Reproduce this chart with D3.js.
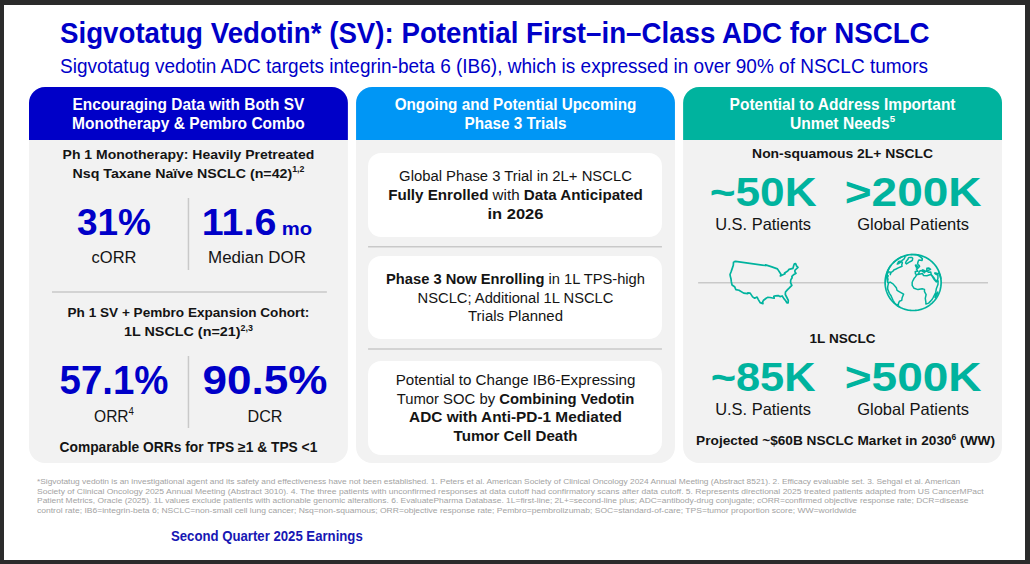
<!DOCTYPE html>
<html>
<head>
<meta charset="utf-8">
<script src="https://cdn.jsdelivr.net/npm/d3@7"></script>
<style>
  html, body { margin: 0; padding: 0; background: #2b2b2b; }
  svg { display: block; }
  text { white-space: pre; }
</style>
</head>
<body>
<script>
// ---- content ----
const titleText = "Sigvotatug Vedotin* (SV): Potential First\u2013in\u2013Class ADC for NSCLC";
const subtitleText = "Sigvotatug vedotin ADC targets integrin-beta 6 (IB6), which is expressed in over 90% of NSCLC tumors";

const panelHeaders = [
  ["Encouraging Data with Both SV", "Monotherapy & Pembro Combo"],
  ["Ongoing and Potential Upcoming", "Phase 3 Trials"],
  ["Potential to Address Important", "Unmet Needs^5^"]
];

const cohortTitles = [
  ["Ph 1 Monotherapy: Heavily Pretreated", "Nsq Taxane Na\u00efve NSCLC (n=42)^1,2^"],
  ["Ph 1 SV + Pembro Expansion Cohort:", "1L NSCLC (n=21)^2,3^"]
];
const cohortValues = [["31%", "11.6"], ["57.1%", "90.5%"]];
const cohortUnits = [["", "mo"], ["", ""]];
const cohortLabels = [["cORR", "Median DOR"], ["ORR^4^", "DCR"]];
const cohortNote = "Comparable ORRs for TPS \u22651 & TPS <1";

const trialCards = [
  ["Global Phase 3 Trial in 2L+ NSCLC", "**Fully Enrolled** with **Data Anticipated**", "**in 2026**"],
  ["**Phase 3 Now Enrolling** in 1L TPS-high", "NSCLC; Additional 1L NSCLC", "Trials Planned"],
  ["Potential to Change IB6-Expressing", "Tumor SOC by **Combining Vedotin**", "**ADC with Anti-PD-1 Mediated**", "**Tumor Cell Death**"]
];

const marketTitles = ["Non-squamous 2L+ NSCLC", "1L NSCLC"];
const marketValues = [["~50K", ">200K"], ["~85K", ">500K"]];
const marketLabels = ["U.S. Patients", "Global Patients"];
const marketNote = "Projected ~$60B NSCLC Market in 2030^6^ (WW)";

const footnotes = [
  "*Sigvotatug vedotin is an investigational agent and its safety and effectiveness have not been established. 1. Peters et al. American Society of Clinical Oncology 2024 Annual Meeting (Abstract 8521). 2. Efficacy evaluable set. 3. Sehgal et al. American",
  "Society of Clinical Oncology 2025 Annual Meeting (Abstract 3010). 4. The three patients with unconfirmed responses at data cutoff had confirmatory scans after data cutoff. 5. Represents directional 2025 treated patients adapted from US CancerMPact",
  "Patient Metrics, Oracle (2025). 1L values exclude patients with actionable genomic alterations. 6. EvaluatePharma Database. 1L=first-line; 2L+=second-line plus; ADC=antibody-drug conjugate; cORR=confirmed objective response rate; DCR=disease",
  "control rate; IB6=integrin-beta 6; NSCLC=non-small cell lung cancer; Nsq=non-squamous; ORR=objective response rate; Pembro=pembrolizumab; SOC=standard-of-care; TPS=tumor proportion score; WW=worldwide"
];
const footerText = "Second Quarter 2025 Earnings";

// rough outlines (lon, lat) for the two icons
const usOutline = [[-124.7,48.4],[-123,49],[-95.2,49],[-95.2,49.4],[-89.6,48.0],[-84.8,46.5],[-82.4,43.0],[-83.1,42.0],
  [-79.0,42.9],[-79.2,43.4],[-76.3,44.2],[-74.9,45.0],[-71.5,45.0],[-70.0,46.7],[-69.2,47.4],[-68.0,47.3],[-67.8,45.7],
  [-67.0,44.8],[-70.2,43.6],[-70.6,42.6],[-70.0,41.7],[-71.9,41.3],[-73.9,40.5],[-74.0,39.6],[-75.0,38.9],[-75.5,38.4],
  [-76.0,37.0],[-75.5,35.2],[-77.9,33.9],[-79.2,33.2],[-81.0,32.0],[-81.4,30.5],[-80.6,28.4],[-80.0,26.7],[-80.4,25.2],
  [-81.2,25.3],[-81.8,26.7],[-82.7,28.0],[-83.7,29.9],[-85.3,29.7],[-86.5,30.4],[-88.5,30.4],[-89.6,30.2],[-89.4,29.0],
  [-90.5,29.2],[-92.3,29.6],[-94.0,29.7],[-95.0,29.2],[-96.8,28.0],[-97.4,27.0],[-97.2,25.9],[-99.1,26.5],[-100.4,28.3],
  [-101.4,29.8],[-103.0,29.0],[-104.5,29.7],[-106.5,31.8],[-108.2,31.8],[-108.2,31.3],[-111.1,31.3],[-114.8,32.5],
  [-117.1,32.5],[-118.5,34.0],[-120.6,34.6],[-121.9,36.6],[-122.5,37.8],[-123.8,39.5],[-124.4,40.4],[-124.2,42.0],
  [-124.1,44.0],[-124.0,46.3],[-124.7,48.4]];

const continents = [
  // north america
  [[-168,66],[-160,70],[-140,70],[-125,70],[-110,73],[-95,72],[-85,70],[-80,63],[-90,58],[-82,52],[-78,55],[-75,62],
   [-65,60],[-60,55],[-55,52],[-66,45],[-70,42],[-76,38],[-76,35],[-81,31],[-80,26],[-82,28],[-84,30],[-90,29],[-97,27],
   [-97,22],[-94,18],[-87,21],[-88,16],[-83,15],[-83,10],[-79,9],[-78,8],[-82,8],[-86,12],[-92,15],[-100,17],[-106,23],
   [-110,30],[-112,29],[-110,23],[-115,30],[-118,34],[-122,37],[-124,42],[-124,48],[-130,54],[-138,59],[-150,61],
   [-155,58],[-165,60],[-168,66]],
  // greenland
  [[-73,78],[-60,82],[-35,83],[-20,80],[-20,72],[-25,70],[-35,66],[-43,60],[-50,62],[-54,67],[-58,75],[-73,78]],
  // south america
  [[-78,8],[-72,12],[-62,11],[-52,5],[-50,0],[-44,-2],[-35,-6],[-39,-15],[-41,-22],[-48,-26],[-54,-34],[-58,-39],
   [-65,-42],[-66,-48],[-69,-52],[-72,-54],[-75,-48],[-73,-38],[-71,-30],[-71,-18],[-76,-14],[-81,-6],[-80,0],[-78,8]],
  // africa
  [[-17,21],[-13,28],[-9,32],[-6,36],[10,37],[11,33],[20,31],[32,31],[34,28],[38,18],[43,12],[51,12],[48,5],[41,-2],
   [40,-10],[35,-20],[33,-26],[27,-34],[19,-35],[16,-28],[12,-17],[13,-8],[9,-1],[9,4],[4,6],[-5,5],[-13,8],[-17,14],[-17,21]],
  // eurasia
  [[-9,37],[-9,43],[-2,43.5],[-4.5,48],[2,51],[8,54],[8,57],[5,58],[5,62],[14,68],[20,70],[28,71],[40,67],[45,68],
   [60,70],[70,73],[90,76],[110,77],[140,72],[180,69],[170,60],[160,58],[142,52],[140,45],[130,35],[122,30],[120,22],
   [108,20],[106,10],[100,14],[98,8],[92,20],[80,15],[77,8],[72,20],[67,24],[57,25],[56,27],[50,30],[48,30],[50,27],
   [55,24],[58,22],[52,16],[43,13],[39,21],[35,28],[34,31],[36,36],[28,37],[26,40],[29,41],[41,41],[38,45],[30,46],
   [28,44],[23,40],[20,40],[19,42],[14,45],[16,41],[18.5,40],[16,38],[12,42],[9,44],[3,43],[0,39],[-2,37],[-6,36],[-9,37]],
  // britain
  [[-5,50],[1,51],[2,53],[-2,56],[-3,58.6],[-6,58],[-5,55],[-3,54],[-4,52],[-5,50]],
  // madagascar
  [[44,-25],[47,-25],[50,-15],[49,-12],[44,-16],[44,-25]]
];

// ---- look ----
const FONT = '"Liberation Sans", Arial, Helvetica, sans-serif';
const navy = "#0000c8";
const sky = "#0096f5";
const teal = "#00b39e";
const bodyGray = "#f2f2f2";
const rule = "#c9c9c9";
const ink = "#141414";

const svg = d3.select("body").append("svg")
    .attr("width", 1030)
    .attr("height", 564);

// page + dark frame
svg.append("rect").attr("width", 1030).attr("height", 564).attr("fill", "#2b2b2b");
svg.append("rect").attr("x", 4).attr("y", 5).attr("width", 1021).attr("height", 555).attr("fill", "#fff");

// "**bold**" and "^sup^" markup -> segments
function parse(str) {
  return str.split(/(\*\*[^*]+\*\*|\^[^^]+\^)/).filter(s => s).map(s => {
    if (s.startsWith("**")) return {t: s.slice(2, -2), b: true};
    if (s.startsWith("^")) return {t: s.slice(1, -1), sup: true};
    return {t: s};
  });
}

// text line, squeezed horizontally to width w
function txt(parent, str, o) {
  const t = parent.append("text")
      .attr("text-anchor", o.anchor || "middle")
      .attr("font-family", FONT)
      .attr("font-size", o.size)
      .attr("font-weight", o.weight || "normal")
      .attr("fill", o.color || ink);
  let up = false;
  parse(str).forEach(s => {
    const sp = t.append("tspan").text(s.t);
    if (s.b) sp.attr("font-weight", "bold");
    if (s.sup) {
      sp.attr("font-size", o.size * 0.62).attr("dy", -o.size * 0.4);
      up = true;
    } else if (up) {
      sp.attr("dy", o.size * 0.4);
      up = false;
    }
  });
  if (o.unit) t.append("tspan").attr("font-size", o.unitSize).attr("dx", 5).text(o.unit);
  const natural = t.node().getComputedTextLength();
  const sx = o.w ? o.w / natural : 1;
  t.attr("transform", `translate(${o.x},${o.y}) scale(${sx},1)`);
  return t;
}

function hline(x1, x2, y) {
  svg.append("line").attr("x1", x1).attr("x2", x2).attr("y1", y).attr("y2", y)
     .attr("stroke", rule).attr("stroke-width", 1.5);
}
function vline(x, y1, y2) {
  svg.append("line").attr("x1", x).attr("x2", x).attr("y1", y1).attr("y2", y2)
     .attr("stroke", rule).attr("stroke-width", 1.5);
}

// ---- title ----
txt(svg, titleText, {x: 60, y: 43, size: 29, weight: "bold", color: navy, anchor: "start", w: 870});
txt(svg, subtitleText, {x: 60, y: 73, size: 19.5, color: navy, anchor: "start", w: 868});

// ---- three panels ----
const panelX = d3.scaleBand()
    .domain(d3.range(3))
    .range([29, 1002])
    .paddingInner(0.025);
const bw = panelX.bandwidth();
const headTop = 87, headBottom = 140, bodyBottom = 463, rad = 16;
const headColors = [navy, sky, teal];
const headW = [[232, 233], [242, 102], [226, 105]];

panelHeaders.forEach((lines, i) => {
  const x = panelX(i);
  svg.append("rect")
      .attr("x", x).attr("y", headTop)
      .attr("width", bw).attr("height", bodyBottom - headTop)
      .attr("rx", rad).attr("fill", bodyGray);
  svg.append("path")
      .attr("d", `M${x},${headBottom}V${headTop + rad}A${rad},${rad} 0 0 1 ${x + rad},${headTop}` +
                 `H${x + bw - rad}A${rad},${rad} 0 0 1 ${x + bw},${headTop + rad}V${headBottom}Z`)
      .attr("fill", headColors[i]);
  lines.forEach((l, j) => {
    txt(svg, l, {x: x + bw / 2, y: 110 + j * 18.5, size: 16, weight: "bold", color: "#fff", w: headW[i][j]});
  });
});

// ---- panel 1: cohort results ----
const p1 = panelX(0), p1c = p1 + bw / 2;
const cohortTitleY = [[159, 177.5], [317, 336]];
const cohortTitleW = [[252, 232], [242, 129]];
const valueY = [235, 394], valueSize = [37, 40], labelY = [263, 422];
const valueW = [[74, 105], [109, 125]];
const labelW = [[45, 98], [40, 35]];
const colX = [
  d3.scalePoint().domain(d3.range(2)).range([p1 + 85, p1 + 228]),
  d3.scalePoint().domain(d3.range(2)).range([p1 + 85, p1 + 236])
];
const dividerY = [[198, 270], [356, 428]];

cohortTitles.forEach((lines, r) => {
  lines.forEach((l, j) => {
    txt(svg, l, {x: p1c, y: cohortTitleY[r][j], size: 13.5, weight: "bold", w: cohortTitleW[r][j]});
  });
  cohortValues[r].forEach((v, c) => {
    txt(svg, v, {x: colX[r](c), y: valueY[r], size: valueSize[r], weight: "bold", color: navy,
                 unit: cohortUnits[r][c], unitSize: 19, w: valueW[r][c]});
    txt(svg, cohortLabels[r][c], {x: colX[r](c), y: labelY[r], size: 16.5, w: labelW[r][c]});
  });
  vline(p1c, dividerY[r][0], dividerY[r][1]);
});
hline(p1 + 23, p1 + bw - 21, 292);
txt(svg, cohortNote, {x: p1c, y: 451.5, size: 14, weight: "bold", w: 258});

// ---- panel 2: trial cards ----
const p2 = panelX(1), p2c = p2 + bw / 2;
const cardBox = [[153, 237], [256, 339], [361, 455]];
const cardLineW = [[233, 255, 56], [259, 196, 95], [240, 238, 213, 124]];
trialCards.forEach((lines, k) => {
  const [y0, y1] = cardBox[k];
  svg.append("rect")
      .attr("x", p2 + 12).attr("y", y0)
      .attr("width", bw - 25).attr("height", y1 - y0)
      .attr("rx", 13).attr("fill", "#fff");
  const mid = (y0 + y1) / 2 + 5;
  lines.forEach((l, j) => {
    txt(svg, l, {x: p2c, y: mid + (j - (lines.length - 1) / 2) * 18.9, size: 14.5, w: cardLineW[k][j]});
  });
});
hline(p2 + 12, p2 + bw - 13, 246.7);
hline(p2 + 12, p2 + bw - 13, 349);

// ---- panel 3: patient numbers ----
const p3 = panelX(2), p3c = p3 + bw / 2;
const mCol = d3.scalePoint().domain(d3.range(2)).range([p3 + 80, p3 + 230]);
const mTitleY = [158, 342.7], mTitleW = [181, 66];
const mValueY = [206, 390.5], mLabelY = [229.5, 414.5];
const mValueW = [[107, 137], [105, 137]], mLabelW = [96, 112];

marketTitles.forEach((title, r) => {
  txt(svg, title, {x: p3c, y: mTitleY[r], size: 13.5, weight: "bold", w: mTitleW[r]});
  marketValues[r].forEach((v, c) => {
    txt(svg, v, {x: mCol(c), y: mValueY[r], size: 40, weight: "bold", color: teal, w: mValueW[r][c]});
    txt(svg, marketLabels[c], {x: mCol(c), y: mLabelY[r], size: 16.5, w: mLabelW[c]});
  });
});
hline(p3 + 15, p3 + bw - 14, 282.7);
txt(svg, marketNote, {x: p3c + 3, y: 445, size: 13.5, weight: "bold", w: 299});

// US map icon
const usFeature = {type: "LineString", coordinates: usOutline};
const usProj = d3.geoAlbers().fitExtent([[730, 261], [798, 304]], usFeature);
svg.append("path")
    .attr("d", d3.geoPath(usProj)(usFeature))
    .attr("fill", "none")
    .attr("stroke", teal)
    .attr("stroke-width", 1.7)
    .attr("stroke-linejoin", "round");

// globe icon
const globe = d3.geoOrthographic()
    .scale(28)
    .translate([mCol(1), 282.5])
    .rotate([15, -20]);
const globePath = d3.geoPath(globe);
svg.append("path")
    .attr("d", globePath({type: "Sphere"}))
    .attr("fill", bodyGray)
    .attr("stroke", teal)
    .attr("stroke-width", 1.7);
svg.append("path")
    .attr("d", globePath({type: "MultiLineString", coordinates: continents}))
    .attr("fill", "none")
    .attr("stroke", teal)
    .attr("stroke-width", 1.5)
    .attr("stroke-linejoin", "round");

// ---- footnotes ----
const footW = [925, 948, 932, 820];
footnotes.forEach((f, i) => {
  txt(svg, f, {x: 37, y: 484 + i * 9.7, size: 8, color: "#a3a3a3", anchor: "start", w: footW[i]});
});
txt(svg, footerText, {x: 171, y: 541, size: 14, weight: "bold", color: "#1717b4", anchor: "start", w: 192});
</script>
</body>
</html>
